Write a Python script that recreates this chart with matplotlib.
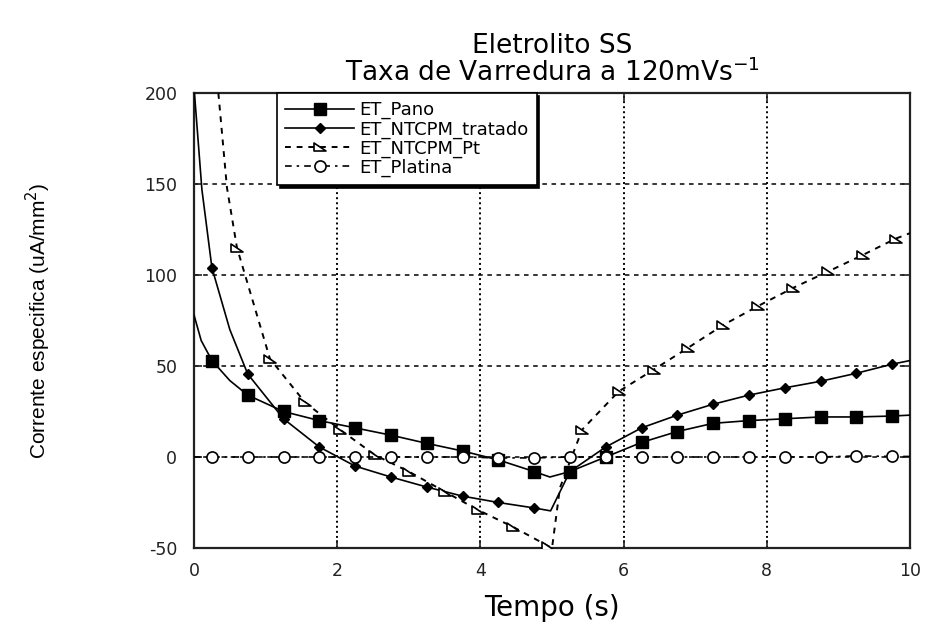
import numpy as np
import matplotlib
matplotlib.use("Agg")
import matplotlib.pyplot as plt
from matplotlib.path import Path

plt.rcParams['font.family'] = ['DejaVu Sans']
plt.rcParams['axes.unicode_minus'] = False

# ET_Pano
pano_t = [0, 0.1, 0.25, 0.5, 0.75, 1.25, 1.75, 2.25, 2.75, 3.25, 3.75, 4.25, 4.75, 4.97,
          5.25, 5.75, 6.25, 6.75, 7.25, 7.75, 8.25, 8.75, 9.25, 9.75, 10]
pano_i = [78, 64, 53, 42, 34, 25, 20, 16, 12, 7.5, 3.3, -1.6, -8, -11,
          -8, 0, 8, 14, 18.5, 20, 21, 22, 22, 22.5, 23]

# ET_NTCPM_tratado
trat_t = [0, 0.11, 0.25, 0.5, 0.75, 1.25, 1.75, 2.25, 2.75, 3.25, 3.75, 4.25, 4.75, 4.98,
          5.25, 5.75, 6.25, 6.75, 7.25, 7.75, 8.25, 8.75, 9.25, 9.75, 10]
trat_i = [203, 147, 104, 70, 45.6, 21, 5.5, -5, -11, -16.5, -21.5, -25, -28, -29.6,
          -8, 5.5, 16, 23, 29, 34, 38, 41.6, 46, 51, 53]

# ET_NTCPM_Pt
pt_t = [0.34, 0.46, 0.6, 1.06, 1.55, 2.04, 2.53, 3.0, 3.5, 3.96, 4.46, 4.95, 5.0, 5.11,
        5.42, 5.93, 6.42, 6.9, 7.39, 7.88, 8.37, 8.86, 9.34, 9.8, 10]
pt_i = [200, 148, 115, 54, 30, 15, 1, -8, -19, -29, -38.5, -49, -50, -17,
        15, 36, 48, 60, 72.5, 83, 93, 102, 111, 120, 123]
pt_marks = [0.6, 1.06, 1.55, 2.04, 2.53, 3.0, 3.5, 3.96, 4.46, 4.95,
            5.42, 5.93, 6.42, 6.9, 7.39, 7.88, 8.37, 8.86, 9.34, 9.8]

# ET_Platina
plat_t = [0, 0.25, 0.75, 1.25, 1.75, 2.25, 2.75, 3.25, 3.75, 4.25, 4.75, 5.25, 5.75,
          6.25, 6.75, 7.25, 7.75, 8.25, 8.75, 9.25, 9.75, 10]
plat_i = [0, 0, 0, 0, 0, 0, 0, 0, 0, -0.5, -0.5, 0, 0,
          0, 0, 0, 0, 0, 0, 0.6, 0.3, 0.3]

marks = np.arange(0.25, 10, 0.5)


def mark_idx(t, where):
    return [i for i, v in enumerate(t) if np.any(np.isclose(v, where))]


# triangle with the right angle at lower left
tri = Path([(-1, 0.65), (-1, -0.65), (1, -0.65), (-1, 0.65)],
           [Path.MOVETO, Path.LINETO, Path.LINETO, Path.CLOSEPOLY])

fig = plt.figure(figsize=(9.27, 6.29), dpi=100)
ax = fig.add_axes([0.2093, 0.1288, 0.7724, 0.7233])

ax.plot(pano_t, pano_i, color='black', lw=1.2, marker='s', ms=8,
        markevery=mark_idx(pano_t, marks), label='ET_Pano', zorder=4)
ax.plot(trat_t, trat_i, color='black', lw=1.2, marker='D', ms=5.5,
        markevery=mark_idx(trat_t, marks), label='ET_NTCPM_tratado', zorder=4)
ax.plot(pt_t, pt_i, color='black', lw=1.4, ls=(0, (3, 3)), marker=tri, ms=8.5,
        mfc='white', mec='black', mew=1.2,
        markevery=mark_idx(pt_t, pt_marks), label='ET_NTCPM_Pt', zorder=4)
ax.plot(plat_t, plat_i, color='black', lw=1.2, ls=(0, (4, 3, 1.5, 3)), marker='o', ms=8,
        mfc='white', mec='black', mew=1.2,
        markevery=mark_idx(plat_t, marks), label='ET_Platina', zorder=4)

ax.set_xlim(0, 10)
ax.set_ylim(-50, 200)
ax.set_xticks([0, 2, 4, 6, 8, 10])
ax.set_yticks([-50, 0, 50, 100, 150, 200])

# grid: dashed horizontal, dotted vertical
for yv in [0, 50, 100, 150]:
    ax.axhline(yv, color='black', lw=1.1, ls=(0, (3, 3)), zorder=1)
for xv in [2, 4, 6, 8]:
    ax.axvline(xv, color='black', lw=1.4, ls=(0, (1, 1.6)), zorder=1)

for s in ax.spines.values():
    s.set_linewidth(1.6)
    s.set_color('#222222')
ax.tick_params(direction='in', length=6, width=1.2, top=True, right=True,
               labelsize=12.5, colors='#222222')
ax.tick_params(axis='x', pad=10)
ax.tick_params(axis='y', pad=12)

ax.set_xlabel('Tempo (s)', fontsize=20, labelpad=10)
ax.set_ylabel('Corrente especifica (uA/mm$^2$)', fontsize=15,
              family=['Liberation Sans', 'DejaVu Sans'])
ax.yaxis.set_label_coords(-0.197, 0.5)

fig.text(0.5955, 0.927, 'Eletrolito SS', ha='center', va='center', fontsize=19)
fig.text(0.5955, 0.884, 'Taxa de Varredura a 120mVs$^{-1}$', ha='center', va='center',
         fontsize=19)

leg = ax.legend(loc='upper left', bbox_to_anchor=(0.116, 1.0), borderaxespad=0,
                fontsize=13, handlelength=3.8, labelspacing=0.05, borderpad=0.45,
                handletextpad=0.3, fancybox=False, framealpha=1,
                shadow={'facecolor': 'black', 'edgecolor': 'black', 'alpha': 1})
leg.get_frame().set_edgecolor('black')
leg.get_frame().set_linewidth(1.2)
leg.set_zorder(6)

fig.savefig('out.png', dpi=100)
